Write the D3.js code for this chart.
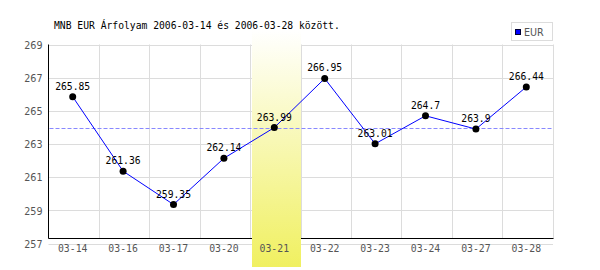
<!DOCTYPE html>
<html>
<head>
<meta charset="utf-8">
<script src="https://cdn.jsdelivr.net/npm/d3@7"></script>
<style>
  body { margin: 0; background: #fff; }
</style>
</head>
<body>
<div id="chart"></div>
<script>
// data
const dates = ['03-14', '03-16', '03-17', '03-20', '03-21', '03-22', '03-23', '03-24', '03-27', '03-28'];
const rates = [265.85, 261.36, 259.35, 262.14, 263.99, 266.95, 263.01, 264.7, 263.9, 266.44];
const rateLabels = ['265.85', '261.36', '259.35', '262.14', '263.99', '266.95', '263.01', '264.7', '263.9', '266.44'];
const yTicks = [257, 259, 261, 263, 265, 267, 269];
const highlightDate = '03-21';
const seriesName = 'EUR';
const title = 'MNB EUR Árfolyam 2006-03-14 és 2006-03-28 között.';

const width = 600, height = 270;
const plotLeft = 48.5, plotRight = 552.5, plotTop = 44.5, plotBottom = 243.5;
const axisY = 238.5;
const mono = '"DejaVu Sans Mono", monospace';
const sans = '"DejaVu Sans", Verdana, sans-serif';

const svg = d3.select('#chart').append('svg')
  .attr('width', width)
  .attr('height', height);

const x = d3.scaleBand().domain(dates).range([plotLeft, plotRight]);
const y = d3.scaleLinear().domain([257, 269]).range([plotBottom, plotTop]);

// gradient for highlighted day
const grad = svg.append('defs').append('linearGradient')
  .attr('id', 'hl').attr('x1', 0).attr('y1', 0).attr('x2', 0).attr('y2', 1);
grad.append('stop').attr('offset', '0%').attr('stop-color', '#ffffff');
grad.append('stop').attr('offset', '100%').attr('stop-color', '#f0f060');

// title
svg.append('text')
  .attr('x', 54).attr('y', 29)
  .style('font-family', mono).style('font-size', '9.7px')
  .style('fill', '#000')
  .text(title);

// horizontal grid
svg.append('g').selectAll('line')
  .data(yTicks)
  .enter().append('line')
  .attr('x1', plotLeft).attr('x2', plotRight + 0.5)
  .attr('y1', d => Math.round(y(d)) + 0.5).attr('y2', d => Math.round(y(d)) + 0.5)
  .style('stroke', '#dcdcdc');

// vertical grid
svg.append('g').selectAll('line')
  .data(dates.slice(1).concat(['end']))
  .enter().append('line')
  .attr('x1', d => Math.round(d === 'end' ? plotRight : x(d)) + 0.5)
  .attr('x2', d => Math.round(d === 'end' ? plotRight : x(d)) + 0.5)
  .attr('y1', plotTop).attr('y2', axisY)
  .style('stroke', '#dcdcdc');

// axes lines
svg.append('line')
  .attr('x1', plotLeft).attr('x2', plotRight + 1)
  .attr('y1', axisY).attr('y2', axisY)
  .style('stroke', '#000');
svg.append('line')
  .attr('x1', plotLeft).attr('x2', plotLeft)
  .attr('y1', plotTop).attr('y2', axisY)
  .style('stroke', '#000');

// highlight band
svg.append('rect')
  .attr('x', Math.round(x(highlightDate)) + 2)
  .attr('y', 30)
  .attr('width', Math.round(x.bandwidth()) - 1)
  .attr('height', 237)
  .style('fill', 'url(#hl)');

// y labels
svg.append('g').selectAll('text')
  .data(yTicks)
  .enter().append('text')
  .attr('x', 42.5)
  .attr('y', d => y(d) + 4.3)
  .attr('text-anchor', 'end')
  .style('font-family', sans).style('font-size', '9.6px')
  .style('fill', '#555')
  .text(d => d);

// x labels
svg.append('g').selectAll('text')
  .data(dates)
  .enter().append('text')
  .attr('x', d => x(d) + x.bandwidth() / 2 - 1)
  .attr('y', 252)
  .attr('text-anchor', 'middle')
  .style('font-family', mono).style('font-size', '9.8px')
  .style('fill', '#555')
  .text(d => d);

// reference line at highlighted value
const hlValue = rates[dates.indexOf(highlightDate)];
svg.append('line')
  .attr('x1', plotLeft + 1).attr('x2', plotRight)
  .attr('y1', Math.round(y(hlValue)) + 0.5).attr('y2', Math.round(y(hlValue)) + 0.5)
  .style('stroke', '#8888ff')
  .style('stroke-dasharray', '4,2');

// series line
const cx = d => x(d) + x.bandwidth() / 2 - 1;
const line = d3.line()
  .x((d, i) => cx(dates[i]))
  .y(d => y(d));
svg.append('path')
  .datum(rates)
  .attr('d', line)
  .style('fill', 'none')
  .style('stroke', '#0000ff')
  .style('stroke-width', 1);

// points
svg.append('g').selectAll('circle')
  .data(rates)
  .enter().append('circle')
  .attr('cx', (d, i) => cx(dates[i]))
  .attr('cy', d => y(d))
  .attr('r', 3.5)
  .style('fill', '#000');

// value labels
svg.append('g').selectAll('text')
  .data(rates)
  .enter().append('text')
  .attr('x', (d, i) => cx(dates[i]))
  .attr('y', d => y(d) - 7)
  .attr('text-anchor', 'middle')
  .style('font-family', mono).style('font-size', '9.7px')
  .style('fill', '#000')
  .text((d, i) => rateLabels[i]);

// legend
const lg = svg.append('g');
lg.append('rect')
  .attr('x', 511.5).attr('y', 22.5).attr('width', 41).attr('height', 18)
  .style('fill', '#fff').style('stroke', '#dcdcdc');
lg.append('rect')
  .attr('x', 515.5).attr('y', 29.5).attr('width', 5).attr('height', 5)
  .style('fill', '#0000ff').style('stroke', '#000033');
lg.append('text')
  .attr('x', 524).attr('y', 36)
  .style('font-family', sans).style('font-size', '9.6px')
  .style('fill', '#555')
  .text(seriesName);
</script>
</body>
</html>
